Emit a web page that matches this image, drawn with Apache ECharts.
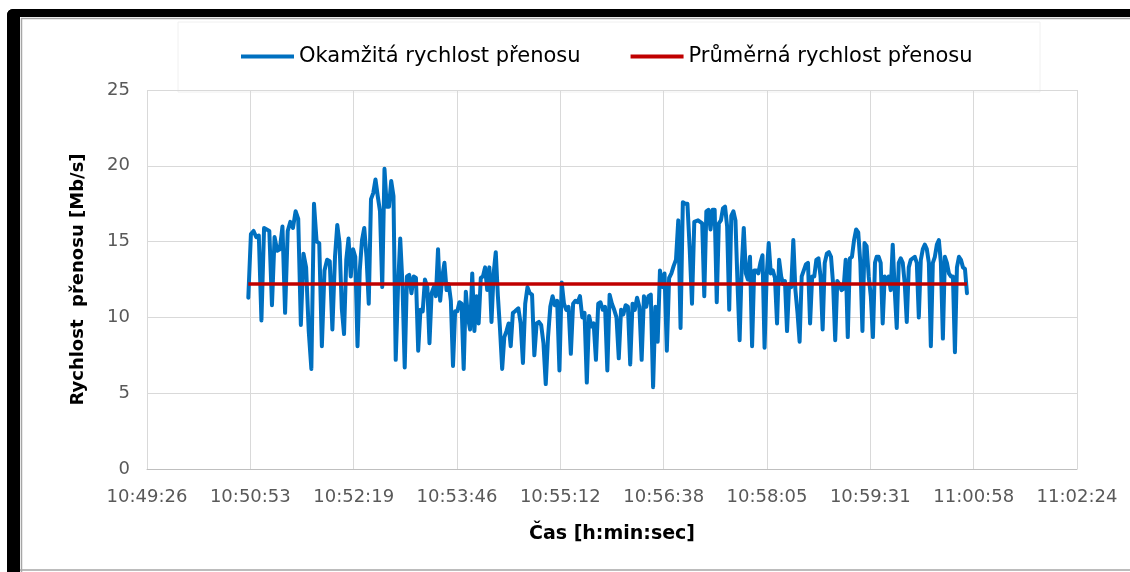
<!DOCTYPE html>
<html>
<head>
<meta charset="utf-8">
<script src="https://cdn.jsdelivr.net/npm/echarts@6/dist/echarts.min.js"></script>
<style>
  html, body { margin: 0; padding: 0; background: #fff; }
  #chart { width: 1130px; height: 572px; }
</style>
</head>
<body>
<div id="chart"></div>
<script>
// time axis ticks: Excel style, step 0.001 day (86.4 s)
const tickLabels = ['10:49:26', '10:50:53', '10:52:19', '10:53:46', '10:55:12',
                    '10:56:38', '10:58:05', '10:59:31', '11:00:58', '11:02:24'];

const segTimes = [
    ['10:50:51.1', '10:52:03.6'],
    ['10:52:05.5', '10:53:18.8'],
    ['10:53:20.8', '10:54:34.1'],
    ['10:54:35.0', '10:55:49.4'],
    ['10:55:51.3', '10:57:04.0'],
    ['10:57:05.4', '10:58:18.4'],
    ['10:58:19.8', '10:59:35.1'],
    ['10:59:36.5', '11:00:52.0']
];

// instantaneous rate [Mb/s]
const rate1 = [11.3, 15.5, 15.7, 15.3, 15.4, 9.8, 15.9, 15.8, 15.7, 10.8, 15.3, 14.4, 14.5, 16.0, 10.3, 15.7, 16.3,
    15.9, 17.0, 16.5, 9.5, 14.2, 13.3, 9.1, 6.6, 17.5, 15.0, 14.9, 8.1, 13.1, 13.8, 13.7, 9.2, 14.0];
const rate2 = [16.1, 14.9, 10.6, 8.9, 13.8, 15.2, 12.7, 14.5, 14.0, 8.1, 13.1, 15.1, 15.9, 14.0, 10.9, 17.8, 18.2,
    19.1, 18.0, 17.0, 12.0, 19.8, 17.3, 17.3, 19.0, 18.0, 7.2, 11.9, 15.2, 12.2, 6.7, 12.7, 12.8, 11.6, 12.7, 12.6,
    7.8, 10.5, 10.4, 12.5];
const rate3 = [12.0, 8.3, 11.6, 12.0, 11.4, 14.5, 11.1, 12.7, 13.6, 11.8, 12.2, 11.1, 6.8, 10.4, 10.4, 11.0, 10.9,
    6.6, 11.7, 10.0, 9.2, 12.9, 9.1, 11.4, 9.6, 12.6, 12.7, 13.3, 11.8, 13.3, 9.7, 12.9, 14.3, 11.4, 9.2, 6.6, 8.7,
    9.1, 9.6, 8.1, 10.3, 10.4];
const rate4 = [10.5, 10.6, 9.6, 7.0, 10.9, 12.0, 11.6, 11.5, 7.5, 9.6, 9.7, 9.5, 8.3, 5.6, 8.7, 10.7, 11.4, 10.8,
    11.1, 6.5, 12.3, 10.9, 10.5, 10.7, 7.6, 10.9, 11.1, 11.0, 11.4, 10.0, 10.3, 5.7, 10.1, 9.4, 9.6, 7.2, 10.9, 11.0,
    10.5, 10.7];
const rate5 = [6.5, 11.5, 10.9, 10.5, 10.0, 7.3, 10.5, 10.2, 10.8, 10.7, 6.9, 10.9, 10.5, 11.3, 10.7, 7.2, 11.4,
    10.7, 11.4, 11.5, 5.4, 10.7, 8.4, 13.1, 12.0, 12.9, 7.8, 12.6, 12.9, 13.4, 13.8, 16.4, 9.3, 17.6, 17.5, 17.5,
    14.5, 10.9, 16.3];
const rate6 = [16.3, 16.4, 16.3, 16.2, 11.4, 17.0, 17.1, 15.8, 17.1, 17.1, 11.0, 16.2, 16.4, 17.2, 17.3, 16.0, 10.5,
    16.7, 17.0, 16.4, 12.2, 8.5, 13.3, 15.9, 12.9, 12.5, 14.0, 8.1, 13.1, 13.1, 12.9, 13.6, 14.1, 8.0, 12.7, 14.9,
    12.9, 13.1, 12.6, 9.6, 13.8, 12.7, 12.2];
const rate7 = [12.4, 9.1, 12.2, 12.0, 15.1, 11.8, 10.3, 8.4, 12.7, 13.1, 13.5, 13.6, 9.6, 12.7, 12.7, 13.8, 13.9,
    12.7, 9.2, 13.6, 14.2, 14.3, 14.0, 12.2, 8.5, 12.4, 12.2, 11.8, 11.9, 13.8, 8.7, 13.9, 14.0, 15.1, 15.8, 15.6,
    13.6, 9.1, 14.9, 14.7, 12.7, 11.4, 8.7, 13.6];
const rate8 = [14.0, 14.0, 13.6, 9.6, 12.7, 12.4, 12.7, 11.8, 14.8, 11.8, 9.3, 13.6, 13.9, 13.6, 12.2, 9.7, 13.3,
    13.8, 13.9, 14.0, 13.6, 10.0, 13.8, 14.5, 14.8, 14.5, 13.6, 8.1, 13.6, 14.0, 14.8, 15.1, 13.6, 8.6, 14.0, 13.6,
    12.9, 12.7, 12.7, 7.7, 13.3, 14.0, 13.8, 13.3, 13.2, 11.6];

// average rate [Mb/s]
const avgRate = 12.2;

const rates = [rate1, rate2, rate3, rate4, rate5, rate6, rate7, rate8];

// clock string -> x value in 0.001 day units (like the Excel axis)
function toX(s) {
    const p = s.split(':').map(Number)
    return (p[0] * 3600 + p[1] * 60 + p[2]) / 86.4
}

function fmtClock(v) {
    let sec = Math.round(v * 86.4)
    const h = Math.floor(sec / 3600)
    const m = Math.floor((sec % 3600) / 60)
    const s = sec % 60
    return h + ':' + String(m).padStart(2, '0') + ':' + String(s).padStart(2, '0')
}

const rateData = []
rates.forEach((vals, k) => {
    const a = toX(segTimes[k][0]), b = toX(segTimes[k][1])
    vals.forEach((v, i) => {
        rateData.push([a + (b - a) * i / (vals.length - 1), v])
    })
})
const avgData = [[rateData[0][0], avgRate], [rateData[rateData.length - 1][0], avgRate]]

const font = 'DejaVu Sans'
const chart = echarts.init(document.getElementById('chart'))

const option = {
    backgroundColor: '#fff',
    animation: false,
    grid: { left: 147, right: 53, top: 90, bottom: 103 },
    legend: {
        left: 236,
        top: 41,
        itemWidth: 53,
        itemHeight: 4,
        itemGap: 50,
        icon: 'rect',
        textStyle: { fontFamily: font, fontSize: 21, color: '#000' },
        data: ['Okamžitá rychlost přenosu', 'Průměrná rychlost přenosu']
    },
    xAxis: {
        type: 'value',
        min: 451,
        max: 460,
        interval: 1,
        name: 'Čas [h:min:sec]',
        nameLocation: 'middle',
        nameGap: 56,
        nameTextStyle: { fontFamily: font, fontSize: 19, fontWeight: 'bold', color: '#000' },
        axisLine: { lineStyle: { color: '#bfbfbf', width: 1 } },
        axisTick: { show: false },
        axisLabel: {
            margin: 19,
            fontFamily: font,
            fontSize: 18,
            color: '#595959',
            formatter: (v) => tickLabels[Math.round(v - 451)] || fmtClock(v)
        },
        splitLine: { show: true, lineStyle: { color: '#d9d9d9', width: 1 } }
    },
    yAxis: {
        type: 'value',
        min: 0,
        max: 25,
        interval: 5,
        name: 'Rychlost  přenosu [Mb/s]',
        nameLocation: 'middle',
        nameGap: 60,
        nameTextStyle: { fontFamily: font, fontSize: 18, fontWeight: 'bold', color: '#000' },
        axisLine: { show: false },
        axisTick: { show: false },
        axisLabel: { margin: 17, fontFamily: font, fontSize: 18, color: '#595959' },
        splitLine: { lineStyle: { color: '#d9d9d9', width: 1 } }
    },
    series: [
        {
            name: 'Okamžitá rychlost přenosu',
            type: 'line',
            data: rateData,
            showSymbol: false,
            lineStyle: { color: '#0070c0', width: 4, join: 'round', cap: 'round' },
            itemStyle: { color: '#0070c0' },
            z: 3
        },
        {
            name: 'Průměrná rychlost přenosu',
            type: 'line',
            data: avgData,
            showSymbol: false,
            lineStyle: { color: '#c00000', width: 3.5 },
            itemStyle: { color: '#c00000' },
            z: 4
        }
    ],
    graphic: [
        // legend box
        { type: 'rect', z: -1, shape: { x: 178, y: 22, width: 862, height: 70 },
          style: { fill: '#fff', stroke: '#f0f0f0', lineWidth: 1 } },
        // frame: black bars top and left, thin grey edge inside
        { type: 'rect', shape: { x: 7, y: 9, width: 1123, height: 8, r: [6, 0, 0, 0] }, style: { fill: '#000' } },
        { type: 'rect', shape: { x: 7, y: 9, width: 13, height: 563, r: [6, 0, 0, 0] }, style: { fill: '#000' } },
        { type: 'line', shape: { x1: 21, y1: 18.5, x2: 1130, y2: 18.5 }, style: { stroke: '#a6a6a6', lineWidth: 1.5 } },
        { type: 'line', shape: { x1: 21.5, y1: 18, x2: 21.5, y2: 572 }, style: { stroke: '#a6a6a6', lineWidth: 1.5 } },
        { type: 'line', shape: { x1: 20, y1: 570, x2: 1130, y2: 570 }, style: { stroke: '#a6a6a6', lineWidth: 1.5 } }
    ]
}

chart.setOption(option)
</script>
</body>
</html>
